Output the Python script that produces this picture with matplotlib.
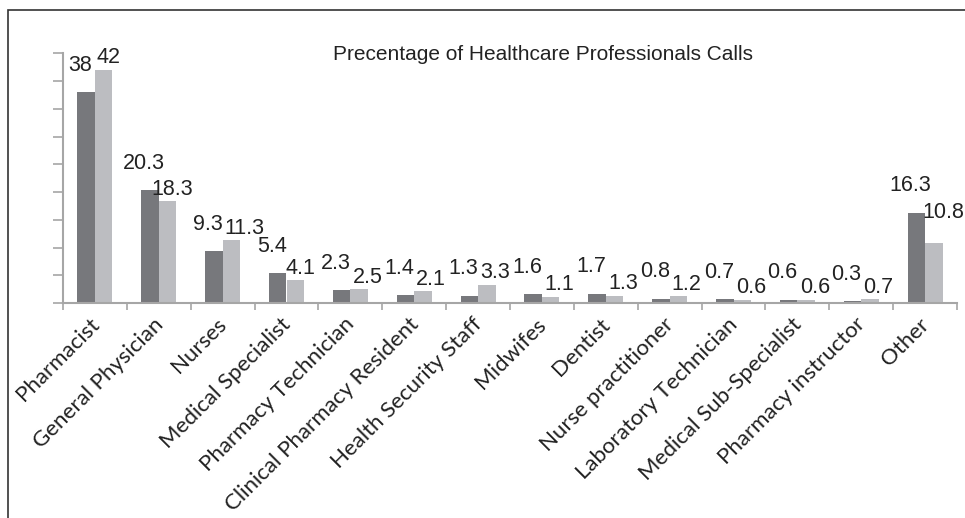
import numpy as np
import matplotlib
matplotlib.use("Agg")
import matplotlib.pyplot as plt
import matplotlib.transforms as mtransforms
from matplotlib.patches import Rectangle

# Data
categories = [
    "Pharmacist", "General Physician", "Nurses", "Medical Specialist",
    "Pharmacy Technician", "Clinical Pharmacy Resident", "Health Security Staff",
    "Midwifes", "Dentist", "Nurse practitioner", "Laboratory Technician",
    "Medical Sub-Specialist", "Pharmacy instructor", "Other",
]
series_dark = [38, 20.3, 9.3, 5.4, 2.3, 1.4, 1.3, 1.6, 1.7, 0.8, 0.7, 0.6, 0.3, 16.3]
series_light = [42, 18.3, 11.3, 4.1, 2.5, 2.1, 3.3, 1.1, 1.3, 1.2, 0.6, 0.6, 0.7, 10.8]
title = "Precentage of Healthcare Professionals Calls"

dark_color = "#77787c"
light_color = "#bcbdc1"
axis_color = "#a6a6a6"

fig = plt.figure(figsize=(9.65, 5.18), dpi=100)
ax = fig.add_axes([63 / 965, 1 - 303 / 518, (957 - 63) / 965, (303 - 53.3) / 518])

x = np.arange(len(categories))
w = 0.275
dark_bars = ax.bar(x - w / 2, series_dark, width=w, color=dark_color)
ax.bar(x + w / 2, series_light, width=w, color=light_color)

ax.set_xlim(-0.5, len(categories) - 0.5)
ax.set_ylim(0, 45)

# value labels: dark ones up-left of the bar, light ones up-right
lab_font = dict(family="Liberation Sans", fontsize=15.5, color="#222222")
dark_labels, light_labels = [], []
for i in range(len(categories)):
    dark_labels.append(ax.annotate(f"{series_dark[i]:g}", (x[i] - w / 2, series_dark[i]),
                                   xytext=(-6, 27), textcoords="offset pixels",
                                   ha="center", va="center", **lab_font))
    light_labels.append(ax.annotate(f"{series_light[i]:g}", (x[i] + w / 2, series_light[i]),
                                    xytext=(5, 12), textcoords="offset pixels",
                                    ha="center", va="center", **lab_font))

# move a light label clear of its dark neighbour (label or bar)
fig.canvas.draw()
r = fig.canvas.get_renderer()
fig_w = fig.bbox.width
for i in range(len(categories)):
    lab = light_labels[i]
    lb = lab.get_window_extent(r)
    dx, dy = lab.xyann
    bar_box = dark_bars[i].get_window_extent(r)
    if lb.overlaps(bar_box) and bar_box.y1 > (lb.y0 + lb.y1) / 2:
        # dark bar is much taller: sit beside its top, inside the figure
        move = bar_box.x1 - lb.x0
        move = min(move, fig_w - 1 - lb.x1)
        dx += move
        dy = bar_box.y1 - ax.transData.transform((0, series_light[i]))[1]
    else:
        dl = dark_labels[i].get_window_extent(r)
        if lb.overlaps(dl):
            dx += dl.x1 - lb.x0 + 2
    lab.xyann = (dx, dy)

# axes styling
for s in ["top", "right"]:
    ax.spines[s].set_visible(False)
for s in ["left", "bottom"]:
    ax.spines[s].set_color(axis_color)
    ax.spines[s].set_linewidth(1.5)

ax.set_yticks(np.arange(0, 46, 5))
ax.set_yticklabels([])
ax.tick_params(axis="y", length=7, width=1.2, color=axis_color)

ax.set_xticks(np.arange(-0.5, len(categories), 1))
ax.set_xticklabels([])
ax.tick_params(axis="x", which="major", length=5, width=1.2, color=axis_color)
ax.set_xticks(x, minor=True)
ax.set_xticklabels(categories, minor=True, rotation=45, ha="right",
                   rotation_mode="anchor", family="Lato", fontsize=16,
                   color="#222222")
ax.tick_params(axis="x", which="minor", length=0, pad=8)
shift = mtransforms.ScaledTranslation(-6 / 100, 0, fig.dpi_scale_trans)
for lbl in ax.get_xticklabels(minor=True):
    lbl.set_transform(lbl.get_transform() + shift)

fig.text(543 / 965, 1 - 55 / 518, title, ha="center", va="center",
         family="Liberation Sans", fontsize=15, color="#222222")

# frame around the whole chart (left and top edges visible)
fig.patches.append(Rectangle((8 / 965, -0.1), 1.1, 1 - 10 / 518 + 0.1,
                             transform=fig.transFigure, fill=False,
                             edgecolor="#333333", linewidth=1.2))

fig.savefig("out.png", dpi=100)
